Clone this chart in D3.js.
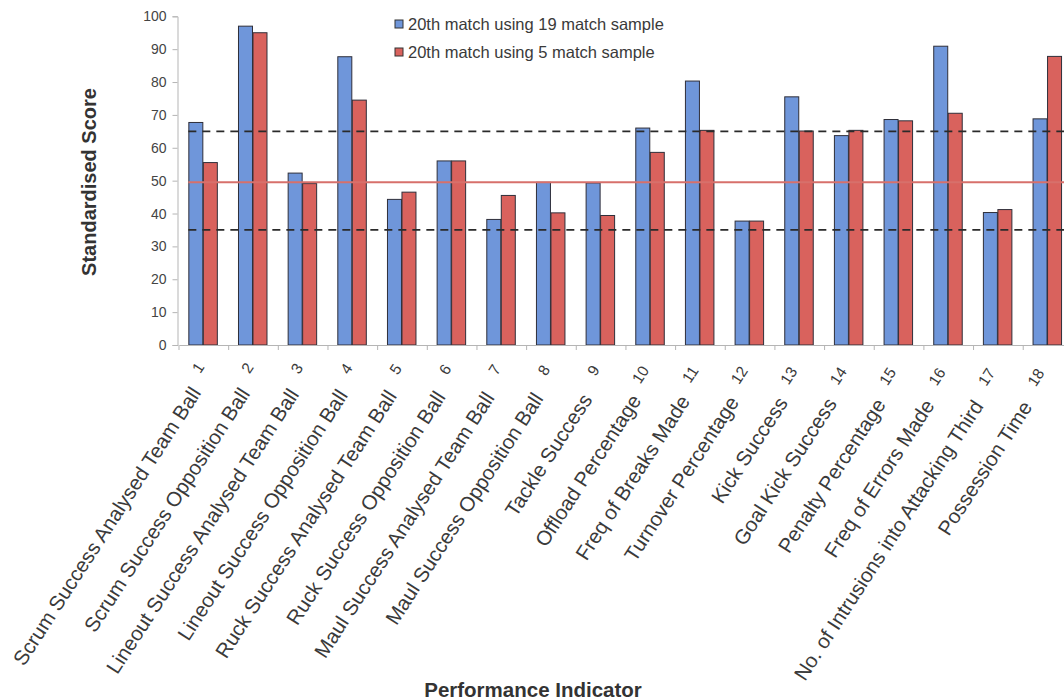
<!DOCTYPE html>
<html>
<head>
<meta charset="utf-8">
<script src="https://cdn.jsdelivr.net/npm/d3@7/dist/d3.min.js"></script>
<style>
  html, body { margin: 0; padding: 0; background: #fff; }
  svg { display: block; }
  text { font-family: Arial, "Liberation Sans", sans-serif; }
</style>
</head>
<body>
<svg id="chart" width="1064" height="700"></svg>
<script>
// Performance indicators (category axis)
const indicators = [
  "Scrum Success Analysed Team Ball",
  "Scrum Success Opposition Ball",
  "Lineout Success Analysed Team Ball",
  "Lineout Success Opposition Ball",
  "Ruck Success Analysed Team Ball",
  "Ruck Success Opposition Ball",
  "Maul Success Analysed Team Ball",
  "Maul Success Opposition Ball",
  "Tackle Success",
  "Offload Percentage",
  "Freq of Breaks Made",
  "Turnover Percentage",
  "Kick Success",
  "Goal Kick Success",
  "Penalty Percentage",
  "Freq of Errors Made",
  "No. of Intrusions into Attacking Third",
  "Possession Time"
];
const indicatorNumbers = ["1","2","3","4","5","6","7","8","9","10","11","12","13","14","15","16","17","18"];

// Standardised scores for the 20th match
const sample19 = [67.7, 97, 52.3, 87.7, 44.3, 56, 38.2, 49.5, 49.3, 66, 80.3, 37.7, 75.5, 63.7, 68.6, 90.9, 40.3, 68.8];
const sample5  = [55.5, 95, 49.1, 74.5, 46.5, 56, 45.5, 40.2, 39.4, 58.6, 65.3, 37.7, 65.1, 65.3, 68.2, 70.5, 41.2, 87.8];

const seriesNames = ["20th match using 19 match sample", "20th match using 5 match sample"];
const yTicks = [0, 10, 20, 30, 40, 50, 60, 70, 80, 90, 100];

// Reference levels
const upperLimit = 65;
const meanLevel = 49.5;
const lowerLimit = 35;

const colors = { fill: ["#6f96da", "#d9625d"], stroke: "#2f2f3a" };

const svg = d3.select("#chart");

const plotLeft = 179, bandStep = 49.66;
const plotRight = plotLeft + indicators.length * bandStep;
const plotTop = 16.3, plotBottom = 345;

const x = d3.scaleBand().domain(indicators).range([plotLeft, plotRight]).padding(0);
const groupWidth = 29;
const x1 = d3.scaleBand().domain([0, 1])
  .range([x.bandwidth() / 2 - groupWidth / 2 - 1, x.bandwidth() / 2 + groupWidth / 2 - 1]);
const y = d3.scaleLinear().domain([0, 100]).range([plotBottom, plotTop]);

// Bars
const rows = indicators.map((name, i) => ({ name, i, vals: [sample19[i], sample5[i]] }));
const groups = svg.append("g").selectAll("g").data(rows).join("g")
  .attr("transform", d => `translate(${x(d.name)},0)`);
groups.selectAll("rect").data(d => d.vals.map((v, s) => ({ v, s }))).join("rect")
  .attr("x", d => x1(d.s) + 0.5)
  .attr("y", d => y(d.v))
  .attr("width", x1.bandwidth() - 0.5)
  .attr("height", d => y(0) - y(d.v))
  .attr("fill", d => colors.fill[d.s])
  .attr("stroke", colors.stroke)
  .attr("stroke-width", 1);

// Reference lines, starting at the first bar group
const lineStart = x(indicators[0]) + x1(0);
const lineEnd = plotRight;
svg.append("line")
  .attr("x1", lineStart).attr("x2", lineEnd)
  .attr("y1", y(upperLimit)).attr("y2", y(upperLimit))
  .attr("stroke", "#2a2a2a").attr("stroke-width", 1.8).attr("stroke-dasharray", "8,6");
svg.append("line")
  .attr("x1", lineStart).attr("x2", lineEnd)
  .attr("y1", y(lowerLimit)).attr("y2", y(lowerLimit))
  .attr("stroke", "#2a2a2a").attr("stroke-width", 1.8).attr("stroke-dasharray", "8,6");
svg.append("line")
  .attr("x1", lineStart).attr("x2", lineEnd)
  .attr("y1", y(meanLevel)).attr("y2", y(meanLevel))
  .attr("stroke", "#d7706b").attr("stroke-width", 2);

// Y axis
const yAxis = svg.append("g")
  .attr("transform", `translate(${plotLeft - 1.5},0)`)
  .call(d3.axisLeft(y).tickValues(yTicks).tickSize(5).tickPadding(6));
yAxis.select(".domain").attr("stroke", "#b5b5b5");
yAxis.selectAll(".tick line").attr("stroke", "#b5b5b5");
yAxis.selectAll(".tick text")
  .attr("font-size", 14).attr("fill", "#444")
  .style("font-family", "Arial, 'Liberation Sans', sans-serif");

// X axis baseline and band ticks
const xAxis = svg.append("g")
  .attr("transform", `translate(0,${plotBottom})`)
  .call(d3.axisBottom(x).tickSize(0).tickFormat(""));
xAxis.select(".domain").attr("stroke", "#b5b5b5");
xAxis.selectAll(".band-tick").data(d3.range(indicators.length + 1)).join("line")
  .attr("class", "band-tick")
  .attr("x1", i => plotLeft + i * x.step()).attr("x2", i => plotLeft + i * x.step())
  .attr("y1", 0).attr("y2", 5)
  .attr("stroke", "#b5b5b5");

// Category labels: number row next to the axis, indicator names below
const angle = -57;
const labelRow = d3.scaleLinear().domain([0, indicators.length - 1]);
const nameDx = labelRow.copy().range([-2, -15]);
const nameDy = labelRow.copy().range([48, 62]);
const numDx = labelRow.copy().range([1, -3]);
const numDy = labelRow.copy().range([22, 28]);

const labels = svg.append("g").attr("fill", "#3a3a3a");
labels.selectAll("text.num").data(rows).join("text")
  .attr("class", "num")
  .attr("text-anchor", "end")
  .attr("font-size", 15.5)
  .attr("transform", d => `translate(${x(d.name) + x.bandwidth() / 2 + numDx(d.i)},${plotBottom + numDy(d.i)}) rotate(${angle})`)
  .text(d => indicatorNumbers[d.i]);
labels.selectAll("text.name").data(rows).join("text")
  .attr("class", "name")
  .attr("text-anchor", "end")
  .attr("font-size", 20.5)
  .attr("transform", d => `translate(${x(d.name) + x.bandwidth() / 2 + nameDx(d.i)},${plotBottom + nameDy(d.i)}) rotate(${angle})`)
  .text(d => d.name);

// Axis titles
svg.append("text")
  .attr("transform", `translate(96,182) rotate(-90)`)
  .attr("text-anchor", "middle")
  .attr("font-size", 20).attr("font-weight", "bold").attr("fill", "#333")
  .text("Standardised Score");
svg.append("text")
  .attr("x", 533).attr("y", 697)
  .attr("text-anchor", "middle")
  .attr("font-size", 20.5).attr("font-weight", "bold").attr("fill", "#333")
  .text("Performance Indicator");

// Legend
const legend = svg.append("g").attr("transform", "translate(395,0)");
const legendRows = legend.selectAll("g").data(seriesNames).join("g")
  .attr("transform", (d, i) => `translate(0,${24 + i * 28})`);
legendRows.append("rect")
  .attr("x", 0).attr("y", -4).attr("width", 8).attr("height", 8)
  .attr("fill", (d, i) => colors.fill[i])
  .attr("stroke", "#333").attr("stroke-width", 1);
legendRows.append("text")
  .attr("x", 13).attr("y", 0).attr("dy", "0.36em")
  .attr("font-size", 16.5).attr("fill", "#3a3a3a")
  .text(d => d);
</script>
</body>
</html>
